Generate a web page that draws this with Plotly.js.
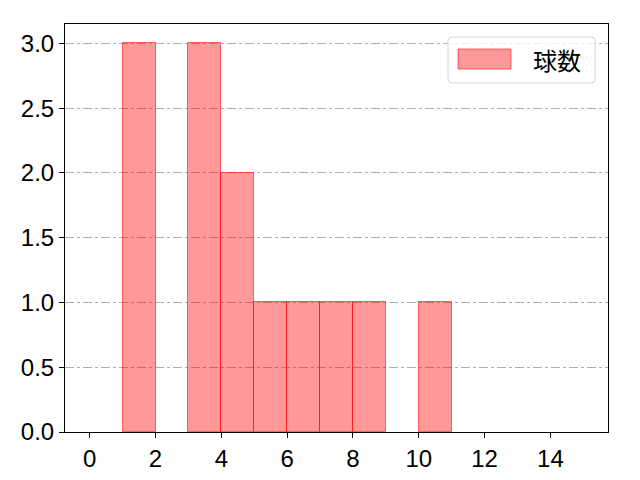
<!DOCTYPE html>
<html>
<head>
<meta charset="utf-8">
<script src="https://cdn.plot.ly/plotly-3.0.1.min.js"></script>
<style>
  html, body { margin: 0; padding: 0; background: #fff; }
  #chart { width: 640px; height: 480px; }
</style>
</head>
<body>
<div id="chart"></div>
<script>
// histogram bins (left edge) and counts
const binStarts = [0, 1, 2, 3, 4, 5, 6, 7, 8, 9, 10, 11, 12, 13, 14];
const counts    = [0, 3, 0, 3, 2, 1, 1, 1, 1, 0, 1, 0, 0, 0, 0];
const seriesName = "球数";
const xTicks = [0, 2, 4, 6, 8, 10, 12, 14];
const yTicks = [0, 0.5, 1.0, 1.5, 2.0, 2.5, 3.0];

const tickFont = "'Liberation Sans', Arial, sans-serif";
const cjkFont = "'Noto Sans CJK JP', 'Noto Sans', sans-serif";

const W = 640, H = 480;
const M = {l: 65, r: 32, t: 24, b: 48};
const pw = W - M.l - M.r, ph = H - M.t - M.b;
// pixel -> paper helpers (legend box only)
const px = v => (v - M.l) / pw;
const py = v => (H - M.b - v) / ph;

const fillColor = "rgba(255,0,0,0.4)";
const edgeColor = "rgba(255,0,0,0.55)";

const data = [{
    type: "bar",
    x: binStarts,
    y: counts,
    width: 1,
    offset: 0,
    name: seriesName,
    showlegend: false,
    marker: {
        color: fillColor,
        line: {color: edgeColor, width: counts.map(c => c > 0 ? 1 : 0)}
    }
}];

// rounded legend frame
const bx0 = 448, bx1 = 595, by0 = 37, by1 = 83, r = 4;
const framePath = [
    `M ${px(bx0 + r)} ${py(by0)}`,
    `L ${px(bx1 - r)} ${py(by0)}`,
    `Q ${px(bx1)} ${py(by0)} ${px(bx1)} ${py(by0 + r)}`,
    `L ${px(bx1)} ${py(by1 - r)}`,
    `Q ${px(bx1)} ${py(by1)} ${px(bx1 - r)} ${py(by1)}`,
    `L ${px(bx0 + r)} ${py(by1)}`,
    `Q ${px(bx0)} ${py(by1)} ${px(bx0)} ${py(by1 - r)}`,
    `L ${px(bx0)} ${py(by0 + r)}`,
    `Q ${px(bx0)} ${py(by0)} ${px(bx0 + r)} ${py(by0)} Z`
].join(" ");

const layout = {
    width: W,
    height: H,
    margin: M,
    paper_bgcolor: "#fff",
    plot_bgcolor: "#fff",
    font: {family: tickFont, size: 24, color: "#000"},
    bargap: 0,
    xaxis: {
        range: [-0.75, 15.75],
        tickvals: xTicks,
        ticktext: xTicks.map(String),
        ticks: "outside", ticklen: 5, tickcolor: "#000", tickwidth: 1,
        showline: true, mirror: true, linecolor: "#000", linewidth: 1,
        showgrid: false, zeroline: false, layer: "above traces"
    },
    yaxis: {
        range: [0, 3.15],
        tickvals: yTicks,
        ticktext: yTicks.map(v => v.toFixed(1)),
        ticks: "outside", ticklen: 5, tickcolor: "#000", tickwidth: 1,
        showline: true, mirror: true, linecolor: "#000", linewidth: 1,
        showgrid: true, gridcolor: "#b0b0b0", gridwidth: 1, griddash: "dashdot",
        zeroline: false
    },
    shapes: [
        {type: "path", xref: "paper", yref: "paper", path: framePath,
         fillcolor: "rgba(255,255,255,0.8)", line: {color: "#d6d6d6", width: 1}},
        {type: "rect", xref: "paper", yref: "paper",
         x0: px(458), x1: px(511), y0: py(69), y1: py(49),
         fillcolor: fillColor, line: {color: edgeColor, width: 1}}
    ],
    annotations: [
        {xref: "paper", yref: "paper", x: px(531), y: py(59),
         xanchor: "left", yanchor: "middle", showarrow: false,
         text: seriesName, font: {family: cjkFont, size: 24, color: "#000"}}
    ]
};

Plotly.newPlot("chart", data, layout, {displayModeBar: false});
</script>
</body>
</html>
